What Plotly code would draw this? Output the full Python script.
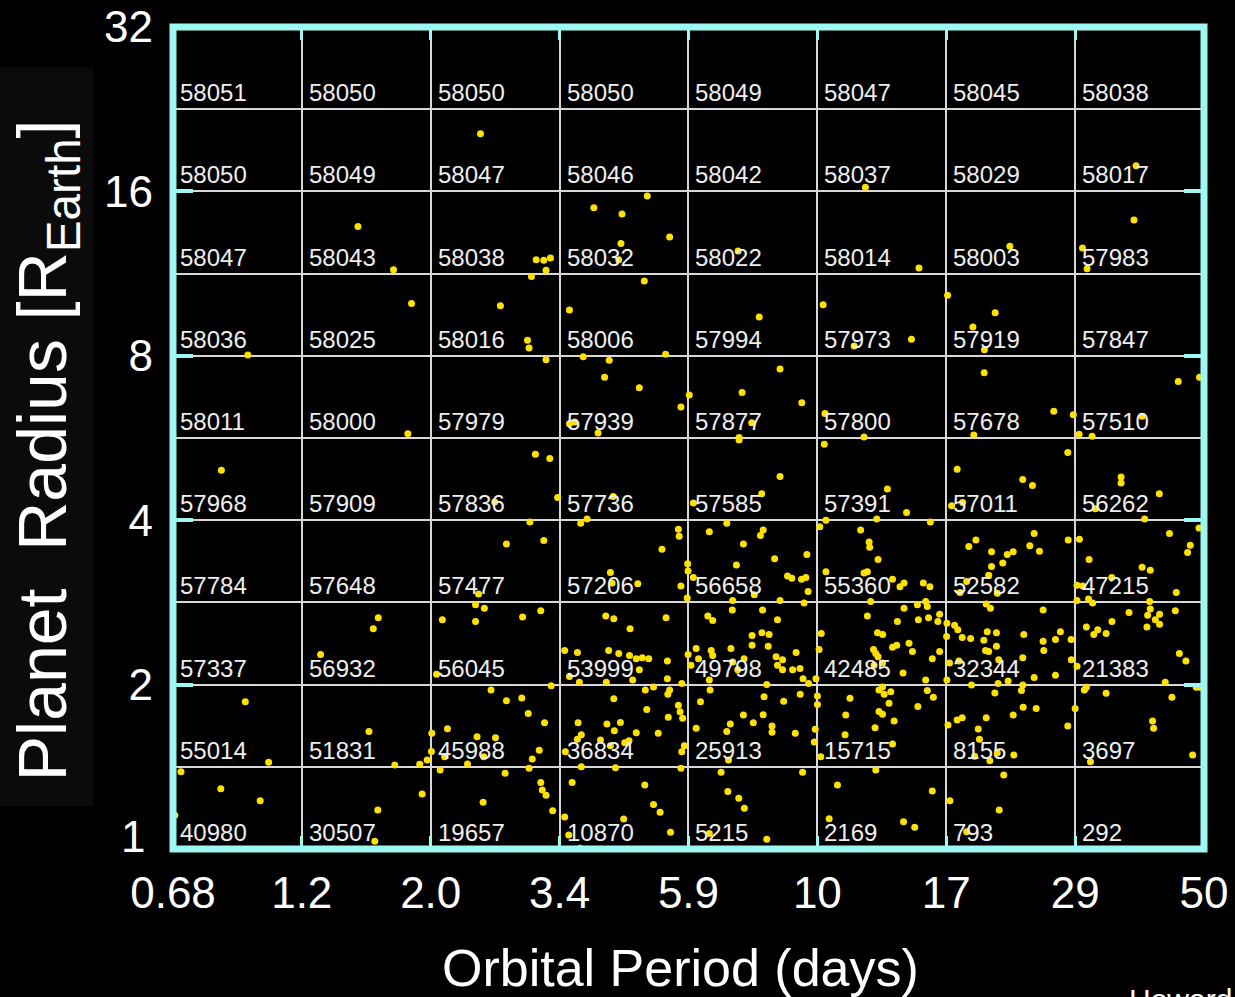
import math
import plotly.graph_objects as go

# Bin edges of the occurrence grid (orbital period in days, planet radius in Earth radii)
period_edges = [0.68, 1.163, 1.991, 3.407, 5.830, 9.977, 17.07, 29.22, 50.0]
period_labels = ["0.68", "1.2", "2.0", "3.4", "5.9", "10", "17", "29", "50"]
radius_edges = [1.0, 1.414, 2.0, 2.828, 4.0, 5.657, 8.0, 11.31, 16.0, 22.63, 32.0]
radius_major = [1, 2, 4, 8, 16, 32]
radius_labels = ["1", "2", "4", "8", "16", "32"]

# Number of stars around which a planet in each cell could have been detected
# (rows from smallest to largest radius, columns from shortest to longest period)
cell_counts = [
    [40980, 30507, 19657, 10870, 5215, 2169, 793, 292],
    [55014, 51831, 45988, 36834, 25913, 15715, 8155, 3697],
    [57337, 56932, 56045, 53999, 49798, 42485, 32344, 21383],
    [57784, 57648, 57477, 57206, 56658, 55360, 52582, 47215],
    [57968, 57909, 57836, 57736, 57585, 57391, 57011, 56262],
    [58011, 58000, 57979, 57939, 57877, 57800, 57678, 57510],
    [58036, 58025, 58016, 58006, 57994, 57973, 57919, 57847],
    [58047, 58043, 58038, 58032, 58022, 58014, 58003, 57983],
    [58050, 58049, 58047, 58046, 58042, 58037, 58029, 58017],
    [58051, 58050, 58050, 58050, 58049, 58047, 58045, 58038],
]

# Planet candidates: orbital period (days)
period = [
    2.45, 1.47, 1.705, 1.838, 2.662, 0.929, 1.81, 4.91, 3.93, 4.42,
    5.39, 4.40, 4.36, 3.09, 3.19, 3.28, 3.22, 3.03, 4.85, 7.17,
    3.55, 7.83, 10.22, 2.98, 3.00, 3.22, 3.76, 4.19, 5.30, 11.63,
    4.11, 4.75, 8.54, 5.85, 5.65, 7.29, 9.35, 10.30, 3.55, 3.63,
    4.00, 7.59, 7.20, 12.19, 37.67, 37.35, 22.26, 30.13, 30.71, 15.24,
    17.17, 20.94, 19.08, 14.77, 20.02, 20.0, 44.91, 49.08, 26.73, 29.0,
    38.62, 19.15, 29.71, 31.36, 12.12, 0.832, 2.60, 2.73, 2.43, 2.40,
    2.49, 2.09, 2.40, 1.60, 1.567, 1.258, 2.04, 2.56, 2.73, 0.919,
    1.539, 2.135, 2.00, 2.415, 2.608, 1.997, 2.11, 2.483, 1.962, 1.902,
    1.714, 2.321, 2.071, 1.013, 0.703, 2.715, 0.830, 0.978, 1.921, 2.477,
    1.597, 0.685, 1.577, 3.08, 3.27, 7.20, 10.27, 8.54, 7.91, 4.26,
    3.38, 5.95, 3.82, 3.72, 3.01, 6.84, 10.34, 10.08, 3.19, 5.59,
    5.61, 6.36, 7.96, 7.87, 7.33, 5.22, 9.55, 8.35, 5.81, 5.82,
    5.95, 7.12, 4.21, 4.72, 4.24, 5.65, 5.80, 8.81, 8.97, 9.34,
    9.51, 10.34, 9.60, 9.44, 8.54, 7.67, 7.01, 7.00, 7.94, 8.45,
    2.92, 3.15, 4.13, 4.27, 5.31, 4.57, 6.32, 6.45, 7.60, 7.92,
    8.16, 10.14, 3.48, 3.67, 4.18, 4.36, 4.56, 4.69, 4.81, 4.94,
    4.75, 5.34, 5.82, 6.02, 5.89, 6.08, 6.41, 6.45, 6.96, 7.35,
    7.60, 8.13, 7.01, 7.16, 8.40, 8.63, 8.45, 8.63, 9.13, 9.00,
    9.28, 10.05, 3.55, 3.70, 4.14, 4.62, 5.34, 5.67, 6.36, 9.40,
    9.62, 9.92, 3.29, 4.87, 5.04, 5.39, 5.35, 6.38, 8.08, 2.91,
    4.27, 7.99, 8.67, 9.29, 9.98, 6.13, 9.98, 2.99, 4.90, 5.59,
    5.63, 5.69, 5.36, 7.33, 7.96, 3.20, 3.68, 4.15, 4.39, 4.28,
    5.14, 4.69, 6.94, 6.84, 7.64, 8.26, 8.26, 9.10, 9.89, 9.85,
    3.73, 3.67, 4.04, 4.55, 4.47, 4.21, 5.73, 5.67, 3.49, 3.13,
    3.04, 3.00, 3.73, 4.30, 5.65, 6.89, 6.02, 10.12, 11.23, 11.43,
    11.2, 10.85, 9.38, 6.68, 3.59, 4.86, 3.15, 3.17, 3.22, 3.31,
    3.48, 5.04, 5.18, 4.45, 6.87, 7.19, 7.36, 10.48, 5.41, 3.54,
    6.36, 8.08, 3.71, 3.36, 28.34, 17.87, 23.49, 24.46, 35.39, 35.39,
    13.36, 41.5, 14.47, 17.46, 18.28, 31.8, 12.78, 15.98, 39.04, 48.97,
    47.22, 46.69, 43.3, 28.39, 29.75, 30.97, 38.63, 39.97, 34.04, 24.63,
    24.19, 25.18, 19.32, 18.76, 20.62, 22.02, 22.57, 21.61, 20.62, 20.38,
    11.95, 12.38, 12.41, 12.85, 12.12, 12.29, 13.65, 14.32, 14.08, 15.52,
    15.95, 18.59, 18.08, 21.12, 12.46, 14.32, 15.14, 15.67, 15.78, 20.17,
    20.53, 25.57, 29.45, 30.16, 29.45, 30.9, 31.43, 44.54, 39.86, 39.97,
    44.36, 36.58, 39.53, 41.55, 40.82, 41.55, 39.42, 34.07, 30.62, 32.11,
    31.58, 33.25, 27.48, 26.92, 28.73, 25.57, 25.64, 23.59, 21.05, 20.26,
    19.97, 18.9, 18.25, 17.12, 17.68, 17.92, 17.1, 12.29, 13.93, 15.2,
    15.86, 16.49, 16.61, 12.82, 13.1, 13.65, 13.89, 14.62, 14.83, 16.61,
    16.11, 12.61, 12.73, 12.85, 13.09, 12.64, 14.26, 15.67, 15.78, 16.18,
    17.12, 17.31, 18.0, 20.11, 20.38, 21.05, 21.25, 23.49, 28.76, 29.45,
    45.12, 46.37, 42.54, 48.42, 49.21, 43.74, 33.25, 30.62, 30.36, 24.63,
    26.92, 18.97, 21.2, 22.1, 23.49, 23.36, 20.91, 13.09, 12.9, 13.18,
    13.55, 13.45, 12.9, 13.09, 13.74, 15.17, 12.69, 13.65, 12.73, 17.2,
    17.87, 18.25, 20.17, 19.51, 19.61, 22.57, 23.53, 24.84, 19.22, 21.12,
    20.48, 22.63, 21.7, 28.34, 29.22, 40.35, 40.53, 31.15, 47.69, 16.11,
    17.34, 21.29, 14.29, 14.97, 18.59,
]

# Planet candidates: radius (Earth radii)
radius = [
    20.4, 13.8, 11.5, 9.97, 9.88, 8.03, 5.76, 15.69, 14.93, 14.54,
    13.2, 12.85, 12.0, 12.0, 11.97, 12.08, 11.48, 11.18, 10.97, 12.44,
    9.70, 9.42, 9.92, 8.54, 8.27, 7.87, 7.97, 7.85, 8.05, 8.34,
    7.31, 6.99, 7.57, 6.78, 6.45, 6.85, 6.56, 6.27, 6.01, 6.05,
    5.78, 6.03, 5.67, 16.28, 17.83, 14.18, 12.69, 12.60, 11.55, 11.59,
    10.33, 9.59, 9.03, 8.58, 8.21, 7.45, 7.18, 7.31, 6.33, 6.24,
    6.20, 5.73, 5.75, 5.70, 5.68, 4.94, 4.32, 3.62, 2.93, 2.80,
    2.76, 2.63, 2.61, 2.65, 2.53, 2.27, 2.09, 1.955, 1.868, 1.861,
    1.642, 1.66, 1.629, 1.605, 1.599, 1.509, 1.475, 1.475, 1.455, 1.429,
    1.425, 1.431, 1.395, 1.441, 1.385, 1.376, 1.289, 1.226, 1.261, 1.218,
    1.179, 1.153, 1.033, 5.28, 5.19, 5.61, 5.51, 4.81, 4.47, 4.42,
    4.40, 4.30, 4.02, 3.95, 3.97, 3.95, 4.00, 3.89, 3.67, 3.85,
    3.74, 3.81, 3.84, 3.75, 3.62, 3.54, 3.46, 3.40, 3.33, 3.23,
    3.14, 3.31, 3.21, 3.06, 3.07, 3.03, 2.88, 3.16, 3.13, 3.12,
    3.14, 3.22, 2.96, 2.82, 2.85, 2.92, 2.85, 2.74, 2.74, 2.63,
    2.66, 2.73, 2.67, 2.64, 2.65, 2.53, 2.67, 2.62, 2.46, 2.49,
    2.47, 2.48, 2.31, 2.29, 2.31, 2.28, 2.26, 2.23, 2.24, 2.23,
    2.13, 2.21, 2.27, 2.33, 2.17, 2.23, 2.31, 2.26, 2.33, 2.23,
    2.36, 2.35, 2.20, 2.13, 2.25, 2.22, 2.17, 2.13, 2.29, 2.13,
    2.14, 2.32, 2.07, 2.02, 2.02, 2.04, 2.05, 2.01, 2.04, 2.05,
    2.01, 2.05, 1.99, 1.955, 1.98, 1.955, 1.92, 1.955, 2.00, 1.89,
    1.885, 1.90, 1.865, 1.92, 1.906, 1.861, 1.84, 1.77, 1.80, 1.834,
    1.784, 1.735, 1.742, 1.759, 1.762, 1.703, 1.703, 1.694, 1.705, 1.646,
    1.629, 1.633, 1.694, 1.642, 1.703, 1.68, 1.636, 1.629, 1.656, 1.57,
    1.618, 1.588, 1.584, 1.579, 1.565, 1.545, 1.545, 1.507, 1.507, 1.517,
    1.461, 1.405, 1.414, 1.409, 1.405, 1.455, 1.663, 1.475, 1.759, 1.888,
    1.618, 1.31, 1.382, 1.382, 1.323, 1.31, 1.323, 1.282, 1.254, 1.175,
    1.145, 1.207, 1.167, 1.135, 1.275, 1.238, 1.187, 1.136, 1.073, 1.061,
    1.068, 1.042, 1.003, 0.995, 5.32, 4.96, 4.75, 4.63, 4.80, 4.68,
    4.56, 4.47, 4.13, 4.25, 4.31, 4.20, 4.02, 3.97, 4.02, 3.87,
    3.60, 3.49, 3.78, 3.68, 3.69, 3.39, 3.28, 3.24, 3.14, 3.78,
    3.59, 3.51, 3.68, 3.58, 3.50, 3.46, 3.50, 3.34, 3.29, 3.17,
    3.84, 3.65, 3.57, 3.39, 3.20, 3.22, 3.12, 3.07, 3.02, 3.07,
    3.02, 3.09, 2.95, 2.94, 2.84, 2.76, 2.80, 2.84, 2.78, 2.81,
    2.76, 2.74, 3.04, 3.03, 2.85, 2.87, 2.82, 2.95, 2.84, 2.75,
    2.73, 2.71, 2.68, 2.69, 2.63, 2.58, 2.55, 2.61, 2.55, 2.52,
    2.47, 2.48, 2.50, 2.42, 2.42, 2.40, 2.31, 2.47, 2.49, 2.50,
    2.41, 2.43, 2.44, 2.59, 2.57, 2.52, 2.45, 2.67, 2.61, 2.63,
    2.65, 2.61, 2.69, 2.49, 2.47, 2.34, 2.36, 2.38, 2.30, 2.30,
    2.23, 2.32, 2.28, 2.25, 2.19, 2.17, 2.10, 2.04, 1.95, 1.896,
    2.04, 2.19, 2.21, 2.31, 2.30, 2.35, 2.22, 2.24, 2.22, 2.16,
    2.28, 2.21, 2.02, 1.977, 1.977, 1.896, 1.928, 1.977, 1.955, 2.06,
    2.08, 1.997, 2.01, 2.03, 1.997, 1.95, 1.93, 1.98, 1.955, 1.92,
    1.94, 1.848, 1.785, 1.765, 1.715, 1.823, 1.667, 1.557, 1.395, 1.687,
    1.722, 1.739, 1.739, 1.659, 1.588, 1.759, 1.817, 1.809, 1.479, 1.50,
    1.45, 1.486, 1.366, 1.68, 1.809, 1.715, 1.663, 1.445, 1.486, 1.277,
    1.226, 1.179, 1.122, 1.096, 1.076,
]

FONT = "Liberation Sans, Arial, Helvetica, sans-serif"
CYAN = "#9ef8f2"
GRID = "#d8d8d8"

fig = go.Figure()
fig.add_trace(go.Scatter(
    x=period, y=radius, mode="markers",
    marker=dict(color="#ffe100", size=7, line=dict(width=0)),
    hoverinfo="x+y",
))

# Detectability counts written in the lower-left corner of each cell
annotations = []
for r, row in enumerate(cell_counts):
    for c, n in enumerate(row):
        annotations.append(dict(
            x=math.log10(period_edges[c]), y=math.log10(radius_edges[r]),
            xref="x", yref="y", text=str(n), showarrow=False,
            xanchor="left", yanchor="bottom", xshift=5, yshift=1,
            font=dict(family=FONT, size=24, color="#eeeeee"),
        ))

# The lowest radius label is lifted a little so it clears the period labels
y_labels_axis = [""] + radius_labels[1:]
annotations.append(dict(
    text=radius_labels[0], xref="paper", yref="y",
    x=-26 / 1031, y=math.log10(radius_major[0]), xanchor="right",
    yanchor="middle", yshift=13, showarrow=False,
    font=dict(family=FONT, size=44, color="white"),
))

annotations += [
    dict(text="Planet\u00a0 Radius [R<sub>Earth</sub>]", textangle=-90,
         xref="paper", yref="paper", x=(47 - 173) / 1031, y=0.485,
         xanchor="center", yanchor="middle", showarrow=False,
         font=dict(family=FONT, size=68, color="white")),
    dict(text="Orbital Period (days)", xref="paper", yref="paper",
         x=0.4918, y=-0.1448, xanchor="center", yanchor="middle",
         showarrow=False, font=dict(family=FONT, size=52, color="white")),
    dict(text="Howard et al. 2012", xref="paper", yref="paper",
         x=(1127 - 173) / 1031, y=-0.1606, xanchor="left", yanchor="top",
         showarrow=False, font=dict(family=FONT, size=30, color="white")),
]

shapes = [
    dict(type="rect", xref="paper", yref="paper",
         x0=-173 / 1031, x1=(93 - 173) / 1031, y0=0.0523, y1=0.951,
         fillcolor="#0b0b0b", line=dict(width=0), layer="below"),
    dict(type="rect", xref="paper", yref="paper", x0=0, x1=1, y0=0, y1=1,
         line=dict(color=CYAN, width=7), layer="above"),
]

fig.update_layout(
    width=1235, height=997,
    margin=dict(l=173, r=31, t=27, b=148, autoexpand=False),
    paper_bgcolor="black", plot_bgcolor="black",
    showlegend=False,
    annotations=annotations, shapes=shapes,
    xaxis=dict(
        type="log", range=[math.log10(period_edges[0]), math.log10(period_edges[-1])],
        tickmode="array", tickvals=period_edges, ticktext=period_labels,
        ticks="inside", ticklen=13, tickwidth=3, tickcolor=CYAN, mirror="ticks",
        showgrid=True, gridcolor=GRID, gridwidth=1.5, zeroline=False,
        showline=False, ticklabelstandoff=14, automargin=False,
        tickfont=dict(family=FONT, size=44, color="white"),
    ),
    yaxis=dict(
        type="log", range=[0, math.log10(radius_edges[-1])],
        tickmode="array", tickvals=radius_major, ticktext=y_labels_axis,
        ticks="inside", ticklen=20, tickwidth=4, tickcolor=CYAN, mirror="ticks",
        showgrid=True, gridcolor=GRID, gridwidth=1.5, zeroline=False,
        showline=False, ticklabelstandoff=19, automargin=False,
        tickfont=dict(family=FONT, size=44, color="white"),
        minor=dict(tickmode="array", tickvals=radius_edges, ticks="",
                   showgrid=True, gridcolor=GRID, gridwidth=1.5),
    ),
)

fig.write_html("out.html")
